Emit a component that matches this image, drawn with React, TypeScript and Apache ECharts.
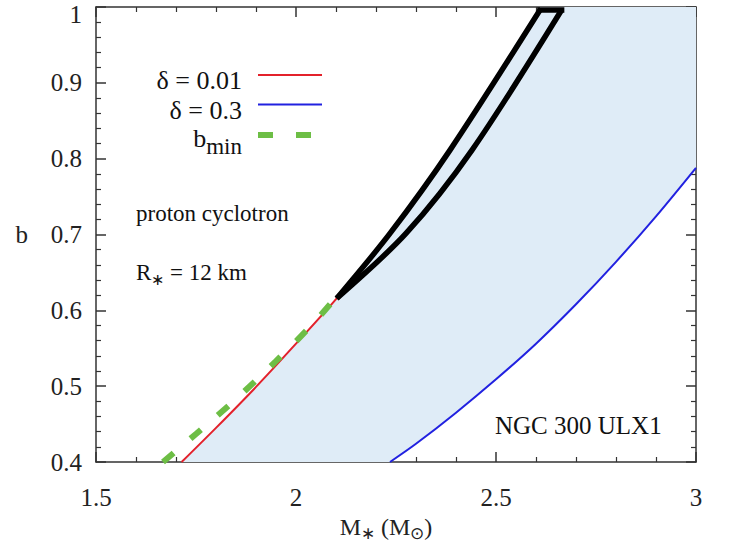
import React, { useEffect, useRef } from 'react';
import * as echarts from 'echarts';

// axis ranges
const xRange = [1.5, 3];
const yRange = [0.4, 1];
const xStep = 0.5;
const yStep = 0.1;

// delta = 0.01 curve (red)
const redM = [1.714, 1.8, 1.9, 2.0, 2.1017, 2.235, 2.385, 2.61];
const redB = [0.4, 0.445, 0.499, 0.556, 0.6157, 0.7014, 0.8113, 0.996];

// delta = 0.3 curve (blue)
const blueM = [2.235, 2.3, 2.4, 2.5, 2.6, 2.7, 2.8, 2.9, 3.0];
const blueB = [0.4, 0.424, 0.465, 0.509, 0.556, 0.608, 0.664, 0.724, 0.788];

// b_min curve (green dashed)
const greenM = [1.6675, 1.75, 1.85, 1.95, 2.04, 2.1];
const greenB = [0.4, 0.437, 0.483, 0.533, 0.581, 0.617];

// observed constraint outline (black): left edge, top, right edge
const boxLeftM = [2.1017, 2.235, 2.385, 2.61];
const boxLeftB = [0.6157, 0.7014, 0.8113, 0.996];
const boxTopM = [2.61, 2.664];
const boxTopB = [0.996, 0.996];
const boxRightM = [2.1017, 2.275, 2.44, 2.664];
const boxRightB = [0.6157, 0.7014, 0.8113, 0.996];

const SERIF = 'Liberation Serif, Times New Roman, serif';

const zip = (a: number[], b: number[]) => a.map((v, i) => [v, b[i]]);
const fmt = (v: number) => String(Number(v.toFixed(2)));

export default function App() {
  const ref = useRef<HTMLDivElement>(null);
  useEffect(() => {
    if (!ref.current) return;
    const chart = echarts.init(ref.current, undefined, { renderer: 'svg' });

    const fillPts: number[][] = [
      ...zip(redM, redB),
      [redM[redM.length - 1], yRange[1]],
      [xRange[1], yRange[1]],
      ...zip(blueM, blueB).reverse(),
    ];

    const axisLine = { show: true, lineStyle: { color: '#333', width: 1.5 } };
    const axisTick = { show: true, inside: true, length: 10, lineStyle: { color: '#333', width: 1.5 } };
    const minorTick = { show: true, splitNumber: 5, length: 5, lineStyle: { color: '#333', width: 1.2 } };
    const labelStyle = { fontFamily: SERIF, fontSize: 25, color: '#222' };

    const sub = { fontFamily: SERIF, fontSize: 17, color: '#222', lineHeight: 8, verticalAlign: 'bottom' };
    const main = { fontFamily: SERIF, fontSize: 24, color: '#222', lineHeight: 30 };

    const black = { color: '#000', width: 5.5 };

    chart.setOption({
      animation: false,
      grid: { left: 96, right: 36, top: 7, bottom: 82, containLabel: false, outerBoundsMode: 'none' },
      xAxis: [
        {
          type: 'value', min: xRange[0], max: xRange[1], interval: xStep, position: 'bottom',
          axisLine, axisTick, minorTick, splitLine: { show: false },
          axisLabel: { ...labelStyle, margin: 23, formatter: (v: number) => fmt(v) },
          name: '{m|M}{s|∗}{m| (M}{s|⊙}{m|)}',
          nameLocation: 'middle', nameGap: 42,
          nameTextStyle: { rich: { m: main, s: sub }, padding: [0, 20, 0, 0] },
        },
        {
          type: 'value', min: xRange[0], max: xRange[1], interval: xStep, position: 'top',
          axisLine, axisTick, minorTick, splitLine: { show: false }, axisLabel: { show: false },
        },
      ],
      yAxis: [
        {
          type: 'value', min: yRange[0], max: yRange[1], interval: yStep, position: 'left',
          axisLine, axisTick, minorTick, splitLine: { show: false },
          axisLabel: {
            ...labelStyle, margin: 14,
            formatter: (v: number) => (Math.abs(v - yRange[1]) < 1e-9 ? `{top|${fmt(v)}}` : fmt(v)),
            rich: { top: { fontFamily: SERIF, fontSize: 25, color: '#222', padding: [14, 0, 0, 0] } },
          },
          name: 'b', nameLocation: 'middle', nameGap: 68, nameRotate: 0,
          nameTextStyle: { fontFamily: SERIF, fontSize: 25, color: '#222' },
        },
        {
          type: 'value', min: yRange[0], max: yRange[1], interval: yStep, position: 'right',
          axisLine, axisTick, minorTick, splitLine: { show: false }, axisLabel: { show: false },
        },
      ],
      series: [
        {
          type: 'custom',
          name: 'allowed',
          data: [[2.5, 0.7]],
          encode: { x: 0, y: 1 },
          silent: true,
          renderItem: (params: any, api: any) => ({
            type: 'polygon',
            shape: { points: fillPts.map((p) => api.coord(p)) },
            style: { fill: '#dfecf7' },
          }),
          z: 1,
        },
        {
          type: 'line', name: 'δ = 0.01', data: zip(redM, redB), symbol: 'none', smooth: 0.3,
          lineStyle: { color: '#e3212b', width: 2 }, z: 2,
        },
        {
          type: 'line', name: 'δ = 0.3', data: zip(blueM, blueB), symbol: 'none', smooth: 0.3,
          lineStyle: { color: '#2121e0', width: 2 }, z: 2,
        },
        {
          type: 'line', name: 'b_min', data: zip(greenM, greenB), symbol: 'none', smooth: 0.3,
          lineStyle: { color: '#6dbe45', width: 6, type: [14, 22] }, z: 3,
        },
        {
          type: 'line', name: 'constraint left', data: zip(boxLeftM, boxLeftB), symbol: 'none', smooth: 0.3,
          lineStyle: black, z: 4,
        },
        {
          type: 'line', name: 'constraint top', data: zip(boxTopM, boxTopB), symbol: 'none',
          lineStyle: { ...black, cap: 'square' }, z: 4,
        },
        {
          type: 'line', name: 'constraint right', data: zip(boxRightM, boxRightB), symbol: 'none', smooth: 0.3,
          lineStyle: black, z: 4,
        },
      ],
      graphic: [
        { type: 'text', x: 242, y: 80, style: { text: 'δ = 0.01', align: 'right', verticalAlign: 'middle', fontFamily: SERIF, fontSize: 26, fill: '#111' } },
        { type: 'line', shape: { x1: 258, y1: 75, x2: 322, y2: 75 }, style: { stroke: '#e3212b', lineWidth: 2 } },
        { type: 'text', x: 242, y: 110, style: { text: 'δ = 0.3', align: 'right', verticalAlign: 'middle', fontFamily: SERIF, fontSize: 26, fill: '#111' } },
        { type: 'line', shape: { x1: 258, y1: 104.5, x2: 322, y2: 104.5 }, style: { stroke: '#2121e0', lineWidth: 2 } },
        {
          type: 'text', x: 242, y: 138,
          style: {
            text: '{m|b}{s|min}', align: 'right', verticalAlign: 'middle',
            rich: {
              m: { fontFamily: SERIF, fontSize: 26, fill: '#111', lineHeight: 40 },
              s: { fontFamily: SERIF, fontSize: 23, fill: '#111', lineHeight: 14, verticalAlign: 'bottom' },
            },
          },
        },
        { type: 'line', shape: { x1: 258, y1: 135, x2: 312, y2: 135 }, style: { stroke: '#6dbe45', lineWidth: 6, lineDash: [15, 23] } },
        { type: 'text', x: 136, y: 213, style: { text: 'proton cyclotron', align: 'left', verticalAlign: 'middle', fontFamily: SERIF, fontSize: 23, fill: '#111' } },
        {
          type: 'text', x: 136, y: 272,
          style: {
            text: '{m|R}{s|∗}{m| = 12 km}', align: 'left', verticalAlign: 'middle',
            rich: {
              m: { fontFamily: SERIF, fontSize: 23, fill: '#111', lineHeight: 30 },
              s: { fontFamily: SERIF, fontSize: 16, fill: '#111', lineHeight: 8, verticalAlign: 'bottom' },
            },
          },
        },
        { type: 'text', x: 495, y: 425, style: { text: 'NGC 300 ULX1', align: 'left', verticalAlign: 'middle', fontFamily: SERIF, fontSize: 25, fill: '#111' } },
      ],
    });
    return () => chart.dispose();
  }, []);
  return <div ref={ref} style={{ position: 'fixed', left: 0, top: 0, width: 732, height: 544, background: '#fff' }} />;
}
